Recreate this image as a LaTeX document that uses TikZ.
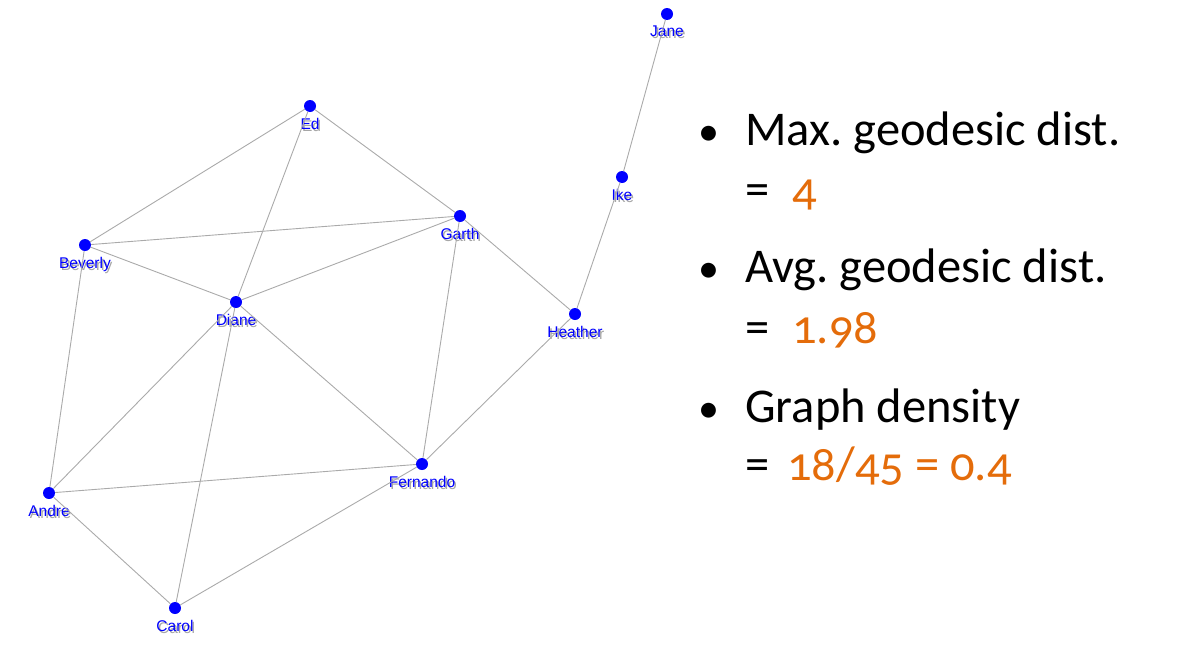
\documentclass[tikz,border=0pt]{standalone}
\usepackage{fontspec}
\setmainfont{Carlito}[Numbers=OldStyle]
\newfontfamily\labelfont{Liberation Sans}
\usetikzlibrary{positioning}
\definecolor{dotblue}{RGB}{0,0,255}
\definecolor{edgegray}{RGB}{170,170,170}
\definecolor{accorange}{RGB}{228,108,10}
\newcommand{\shadowname}[1]{%
    \makebox[0pt][l]{\hspace{1.6pt}\raisebox{-1.6pt}{\color{black!35}#1}}#1}
\frenchspacing
\tikzset {
    vertex/.style = {circle, fill = dotblue, inner sep = 0pt, minimum size = 12pt},
    name label/.style = {
        label = {[label distance = 2.5pt, text = dotblue,
            font = \labelfont\fontsize{15.5}{16}\selectfont]below:\shadowname{#1}}
    },
    link/.style = {draw = edgegray, line width = 0.9pt},
    bullet text/.style = {anchor = base west, inner sep = 0pt,
        font = \fontsize{48.5}{52}\selectfont},
    bullet mark/.style = {anchor = base west, inner sep = 0pt,
        font = \fontsize{42}{46}\selectfont},
    value/.style = {bullet text, text = accorange}
}

\begin{document}
\begin{tikzpicture}[x = 1pt, y = -1pt]
    \useasboundingbox (0, 0) rectangle (1177, 645);
    % people
    \node (jane) [vertex, name label = Jane] at (667, 14) {};
    \node (ed) [vertex, name label = Ed] at (310, 106) {};
    \node (ike) [vertex, name label = Ike] at (622, 177) {};
    \node (garth) [vertex, name label = Garth] at (460, 216) {};
    \node (beverly) [vertex, name label = Beverly] at (85, 245) {};
    \node (diane) [vertex, name label = Diane] at (236, 302) {};
    \node (heather) [vertex, name label = Heather] at (575, 314) {};
    \node (fernando) [vertex, name label = Fernando] at (422, 464) {};
    \node (andre) [vertex, name label = Andre] at (49, 493) {};
    \node (carol) [vertex, name label = Carol] at (175, 608) {};
    % ties
    \foreach \a/\b in {jane/ike, ike/heather, heather/garth, heather/fernando,
        ed/beverly, ed/garth, ed/diane, beverly/garth, beverly/diane,
        beverly/andre, garth/diane, garth/fernando, diane/fernando,
        diane/andre, diane/carol, andre/fernando, andre/carol, carol/fernando}
        \draw [link] (\a) -- (\b);
    % measures
    \node (b1) [bullet mark] at (698, 145) {•};
    \node (max) [bullet text] at (745, 145) {Max. geodesic dist.};
    \node (maxeq) [bullet text] at (745, 205) {=};
    \node (maxval) [value] at (792, 205) {4};
    \node (b2) [bullet mark] at (698, 282) {•};
    \node (avg) [bullet text] at (745, 282) {Avg. geodesic dist.};
    \node (avgeq) [bullet text] at (745, 343) {=};
    \node (avgval) [value] at (792, 343) {1.98};
    \node (b3) [bullet mark] at (698, 422) {•};
    \node (dens) [bullet text] at (745, 422) {Graph density};
    \node (denseq) [bullet text] at (745, 480) {=};
    \node (densval) [value] at (787, 480) {18/45 = 0.4};
\end{tikzpicture}
\end{document}
